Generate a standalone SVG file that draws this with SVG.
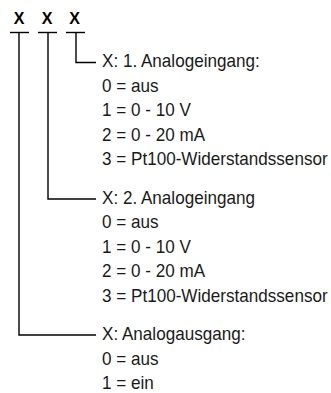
<svg xmlns="http://www.w3.org/2000/svg" width="331" height="393" viewBox="0 0 331 393">
<style>
.hx{font-family:"Liberation Sans",Arial,sans-serif;font-weight:bold;font-size:16px;fill:#000;text-anchor:middle}
.t{font-family:"Liberation Sans",Arial,sans-serif;font-size:18px;fill:#1a1a1a}
.c{fill:none;stroke:#000;stroke-width:1.4;stroke-linecap:butt}
</style>
<rect width="331" height="393" fill="#fff"/>
<g id="digits">
<text class="hx" x="19" y="23.5">X</text>
<text class="hx" x="47" y="23.5">X</text>
<text class="hx" x="74.5" y="23.5">X</text>
</g>
<g id="connectors">
<line class="c" x1="10" y1="32.5" x2="29" y2="32.5"/>
<line class="c" x1="38" y1="32.5" x2="57" y2="32.5"/>
<line class="c" x1="66" y1="32.5" x2="85" y2="32.5"/>
<polyline class="c" points="76,32.5 76,62.5 96,62.5"/>
<polyline class="c" points="48,32.5 48,199 96,199"/>
<polyline class="c" points="19,32.5 19,335 96,335"/>
</g>
<g id="analogeingang1" transform="translate(102,0) scale(0.95,1)">
<text class="t" x="0" y="67.5">X: 1. Analogeingang:</text>
<text class="t" x="0" y="91.9">0 = aus</text>
<text class="t" x="0" y="116.3">1 = 0 - 10 V</text>
<text class="t" x="0" y="140.7">2 = 0 - 20 mA</text>
<text class="t" x="0" y="165.1">3 = Pt100-Widerstandssensor</text>
</g>
<g id="analogeingang2" transform="translate(102,0) scale(0.95,1)">
<text class="t" x="0" y="204">X: 2. Analogeingang</text>
<text class="t" x="0" y="228.4">0 = aus</text>
<text class="t" x="0" y="252.8">1 = 0 - 10 V</text>
<text class="t" x="0" y="277.2">2 = 0 - 20 mA</text>
<text class="t" x="0" y="301.6">3 = Pt100-Widerstandssensor</text>
</g>
<g id="analogausgang" transform="translate(102,0) scale(0.95,1)">
<text class="t" x="0" y="340.5">X: Analogausgang:</text>
<text class="t" x="0" y="364.9">0 = aus</text>
<text class="t" x="0" y="389">1 = ein</text>
</g>
</svg>
